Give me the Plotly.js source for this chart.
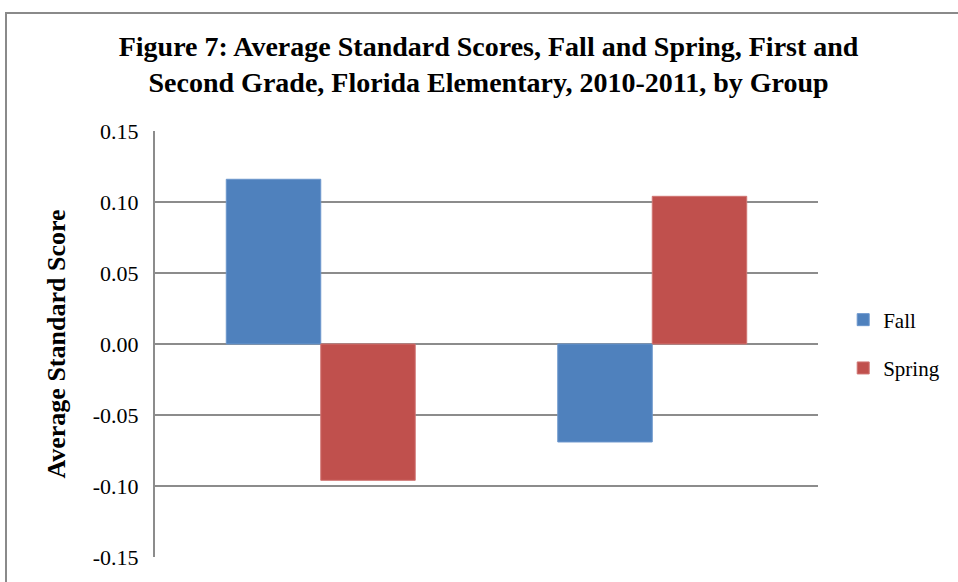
<!DOCTYPE html>
<html>
<head>
<meta charset="utf-8">
<script src="https://cdn.plot.ly/plotly-3.0.1.min.js"></script>
<style>
  html, body { margin: 0; padding: 0; overflow: hidden; background: #fff; }
  #frame { position: absolute; left: 5px; top: 12px; width: 1000px; height: 700px; border: 2px solid #8a8a8a; box-sizing: border-box; }
  #chart { position: absolute; left: 0; top: 0; width: 958px; height: 582px; }
</style>
</head>
<body>
<div id="frame"></div>
<div id="chart"></div>
<script>
// Data (category labels are cropped off in the reference)
const groups = ["Group 1", "Group 2"];
const fallScores = [0.116, -0.069];
const springScores = [-0.096, 0.104];
const yTickValues = [-0.15, -0.10, -0.05, 0.00, 0.05, 0.10, 0.15];
const yTickLabels = ["-0.15", "-0.10", "-0.05", "0.00", "0.05", "0.10", "0.15"];

const serif = "Liberation Serif, Times New Roman, serif";

const traces = [
  {
    type: "bar", name: "Fall", x: groups, y: fallScores,
    marker: { color: "#4F81BD", line: { color: "#6b96cc", width: 1 } },
    legendgroup: "a"
  },
  {
    type: "bar", name: "Spring", x: groups, y: springScores,
    marker: { color: "#C0504D", line: { color: "#d07573", width: 1 } },
    legendgroup: "b"
  }
];

const layout = {
  width: 958, height: 582,
  paper_bgcolor: "rgba(0,0,0,0)",
  plot_bgcolor: "#fff",
  margin: { l: 155, r: 140, t: 131, b: 25, autoexpand: false },
  barmode: "group",
  bargap: 0.43,
  bargroupgap: 0,
  title: {
    text: "<b>Figure 7: Average Standard Scores, Fall and Spring, First and<br>Second Grade, Florida Elementary, 2010-2011, by Group</b>",
    font: { family: serif, size: 28, color: "#000" },
    x: 0.51, xref: "container", xanchor: "center",
    y: 1 - 56 / 582, yref: "container", yanchor: "middle"
  },
  xaxis: {
    showticklabels: false, ticks: "", showgrid: false, zeroline: false,
    showline: false
  },
  yaxis: {
    range: [-0.15, 0.15],
    tickvals: yTickValues, ticktext: yTickLabels,
    tickfont: { family: serif, size: 22, color: "#000" },
    ticklabelstandoff: 10,
    showgrid: true, gridcolor: "#8c8c8c", gridwidth: 2,
    zeroline: false,
    showline: true, linecolor: "#8c8c8c", linewidth: 2,
    ticks: "", ticklen: 0,
    title: {
      text: "<b>Average Standard Score</b>",
      font: { family: serif, size: 26, color: "#000" },
      standoff: 20
    }
  },
  legend: {
    x: 1.038, xanchor: "left", y: 0.5, yanchor: "middle",
    font: { family: serif, size: 21, color: "#000" },
    tracegroupgap: 18, traceorder: "grouped",
    itemwidth: 30
  },
  showlegend: true
};

Plotly.newPlot("chart", traces, layout, { staticPlot: true, displayModeBar: false });
</script>
</body>
</html>
